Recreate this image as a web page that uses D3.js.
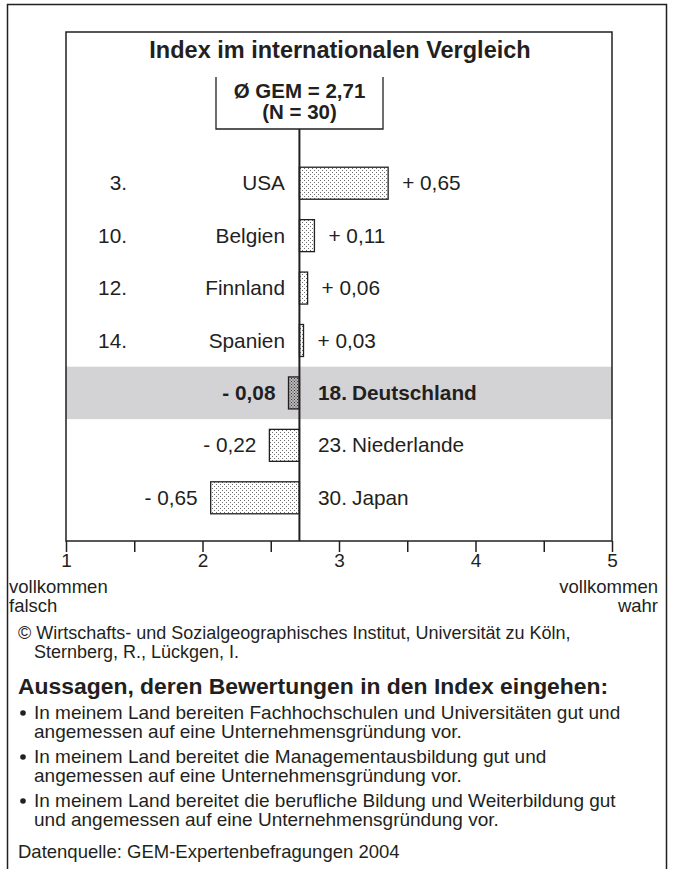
<!DOCTYPE html>
<html><head><meta charset="utf-8">
<script src="https://cdn.jsdelivr.net/npm/d3@7"></script>
<style>
html,body{margin:0;padding:0;background:#fff;}
svg{display:block;font-family:"Liberation Sans",Arial,sans-serif;}
</style></head>
<body>
<svg id="c" width="675" height="869"></svg>
<script>
const title = "Index im internationalen Vergleich";
const meanLabel = ["Ø GEM = 2,71", "(N = 30)"];
const meanValue = 2.71;
const ranks = ["3.", "10.", "12.", "14.", "18.", "23.", "30."];
const countries = ["USA", "Belgien", "Finnland", "Spanien", "Deutschland", "Niederlande", "Japan"];
const deviations = [0.65, 0.11, 0.06, 0.03, -0.08, -0.22, -0.65];
const highlight = "Deutschland";
const tickValues = [1, 2, 3, 4, 5];
const minorTicks = [1.5, 2.5, 3.5, 4.5];
const leftEndLabel = ["vollkommen", "falsch"];
const rightEndLabel = ["vollkommen", "wahr"];
const copyright = ["© Wirtschafts- und Sozialgeographisches Institut, Universität zu Köln,", "Sternberg, R., Lückgen, I."];
const statementsHeading = "Aussagen, deren Bewertungen in den Index eingehen:";
const statements = [
  ["In meinem Land bereiten Fachhochschulen und Universitäten gut und", "angemessen auf eine Unternehmensgründung vor."],
  ["In meinem Land bereitet die Managementausbildung gut und", "angemessen auf eine Unternehmensgründung vor."],
  ["In meinem Land bereitet die berufliche Bildung und Weiterbildung gut", "und angemessen auf eine Unternehmensgründung vor."]
];
const source = "Datenquelle: GEM-Expertenbefragungen 2004";

const ink = "#231f20";
const svg = d3.select("#c");

// pattern defs
const defs = svg.append("defs");
function dots(id, bg, dot, step) {
  const p = defs.append("pattern").attr("id", id).attr("patternUnits", "userSpaceOnUse")
    .attr("width", step).attr("height", step);
  p.append("rect").attr("width", step).attr("height", step).attr("fill", bg);
  p.append("rect").attr("x", 0).attr("y", 0).attr("width", 1).attr("height", 1).attr("fill", dot);
  p.append("rect").attr("x", step/2).attr("y", step/2).attr("width", 1).attr("height", 1).attr("fill", dot);
}
dots("dotsLight", "#ffffff", "#6d6d6d", 4);
dots("dotsDark", "#b8b8b8", "#3a3a3a", 3);

// outer frame
svg.append("rect").attr("x", 7.5).attr("y", 4.5).attr("width", 659).attr("height", 880)
  .attr("fill", "none").attr("stroke", ink).attr("stroke-width", 1.5);

const box = {left: 66, right: 612, top: 32, bottom: 541};
const x = d3.scaleLinear().domain([1, 5]).range([box.left, box.right]);
const y = d3.scaleBand().domain(countries).range([157, 524]).padding(0);
const barH = 32;

// highlight band
svg.append("rect").attr("x", box.left).attr("y", y(highlight))
  .attr("width", box.right - box.left).attr("height", y.bandwidth()).attr("fill", "#d3d3d6");

// inner box
svg.append("rect").attr("x", box.left).attr("y", box.top).attr("width", box.right - box.left)
  .attr("height", box.bottom - box.top).attr("fill", "none").attr("stroke", ink).attr("stroke-width", 1.5);

// title
svg.append("text").attr("x", 340).attr("y", 58).attr("text-anchor", "middle")
  .attr("font-size", 23.5).attr("font-weight", "bold").attr("fill", ink).text(title);

// mean box (open top)
const mx = x(meanValue);
const gb = {l: 216, r: 383, t: 77, b: 129};
svg.append("path").attr("d", `M${gb.l},${gb.t}V${gb.b}H${gb.r}V${gb.t}`)
  .attr("fill", "none").attr("stroke", ink).attr("stroke-width", 1.3);
svg.append("text").attr("x", (gb.l + gb.r) / 2).attr("y", 98).attr("text-anchor", "middle")
  .attr("font-size", 20.5).attr("font-weight", "bold").attr("fill", ink).text(meanLabel[0]);
svg.append("text").attr("x", (gb.l + gb.r) / 2).attr("y", 119).attr("text-anchor", "middle")
  .attr("font-size", 20.5).attr("font-weight", "bold").attr("fill", ink).text(meanLabel[1]);

// bars
const rows = countries.map((c, i) => ({c, r: ranks[i], d: deviations[i]}));
const fmt = v => (v >= 0 ? "+ " : "- ") + d3.format(".2f")(Math.abs(v)).replace(".", ",");

const g = svg.append("g");
g.selectAll("rect.bar").data(rows).join("rect").attr("class", "bar")
  .attr("x", d => x(Math.min(meanValue, meanValue + d.d)))
  .attr("y", d => y(d.c) + (y.bandwidth() - barH) / 2)
  .attr("width", d => Math.abs(x(meanValue + d.d) - x(meanValue)))
  .attr("height", barH)
  .attr("fill", d => d.c === highlight ? "url(#dotsDark)" : "url(#dotsLight)")
  .attr("stroke", ink).attr("stroke-width", 1.3);

// mean line
svg.append("line").attr("x1", mx).attr("x2", mx).attr("y1", gb.b).attr("y2", box.bottom)
  .attr("stroke", ink).attr("stroke-width", 2);

const fs = 20.8;
rows.forEach(d => {
  const cy = y(d.c) + y.bandwidth() / 2 + 7;
  const bold = d.c === highlight ? "bold" : "normal";
  if (d.d >= 0) {
    g.append("text").attr("x", 127).attr("y", cy).attr("text-anchor", "end")
      .attr("font-size", fs).attr("fill", ink).text(d.r);
    g.append("text").attr("x", 285).attr("y", cy).attr("text-anchor", "end")
      .attr("font-size", fs).attr("fill", ink).text(d.c);
    g.append("text").attr("x", x(meanValue + d.d) + 14).attr("y", cy)
      .attr("font-size", fs).attr("fill", ink).text(fmt(d.d));
  } else {
    g.append("text").attr("x", x(meanValue + d.d) - 13).attr("y", cy).attr("text-anchor", "end")
      .attr("font-size", fs).attr("font-weight", bold).attr("fill", ink).text(fmt(d.d));
    g.append("text").attr("x", 318).attr("y", cy)
      .attr("font-size", fs).attr("font-weight", bold).attr("fill", ink).text(d.r);
    g.append("text").attr("x", 352).attr("y", cy)
      .attr("font-size", fs).attr("font-weight", bold).attr("fill", ink).text(d.c);
  }
});

// axis
const axis = d3.axisBottom(x).tickValues(tickValues).tickSize(11).tickPadding(2).tickFormat(d3.format("d"));
const ag = svg.append("g").attr("transform", `translate(0,${box.bottom})`).call(axis);
ag.select(".domain").remove();
ag.selectAll(".tick line").attr("stroke", ink).attr("stroke-width", 1.5);
ag.selectAll(".tick text").attr("font-size", 19).attr("fill", ink).attr("font-family", "Liberation Sans, Arial, sans-serif");
const minorAxis = d3.axisBottom(x).tickValues(minorTicks).tickSize(11).tickFormat("");
const mg = svg.append("g").attr("transform", `translate(0,${box.bottom})`).call(minorAxis);
mg.select(".domain").remove();
mg.selectAll(".tick line").attr("stroke", ink).attr("stroke-width", 1.5);

// end labels
leftEndLabel.forEach((t, i) => svg.append("text").attr("x", 9).attr("y", 593 + i * 19)
  .attr("font-size", 18.5).attr("fill", ink).text(t));
rightEndLabel.forEach((t, i) => svg.append("text").attr("x", 658).attr("y", 593 + i * 19)
  .attr("text-anchor", "end").attr("font-size", 18.5).attr("fill", ink).text(t));

// footer
const fsz = 19;
svg.append("text").attr("x", 18).attr("y", 639).attr("font-size", 18).attr("fill", ink).text(copyright[0]);
svg.append("text").attr("x", 34).attr("y", 658).attr("font-size", 18).attr("fill", ink).text(copyright[1]);
svg.append("text").attr("x", 18).attr("y", 694).attr("font-size", 22.9).attr("font-weight", "bold").attr("fill", ink).text(statementsHeading);
const sy = [719, 763, 807];
statements.forEach((lines, i) => {
  svg.append("circle").attr("cx", 23).attr("cy", sy[i] - 6).attr("r", 2.8).attr("fill", ink);
  lines.forEach((t, j) => svg.append("text").attr("x", 34).attr("y", sy[i] + j * 19)
    .attr("font-size", fsz).attr("fill", ink).text(t));
});
svg.append("text").attr("x", 18).attr("y", 858).attr("font-size", 18.5).attr("fill", ink).text(source);
</script>
</body></html>
